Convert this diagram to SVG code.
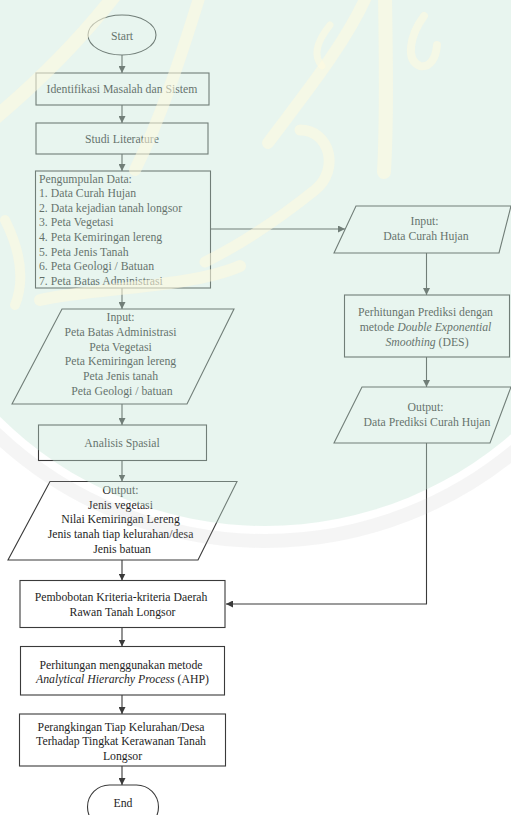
<svg xmlns="http://www.w3.org/2000/svg" width="511" height="815" viewBox="0 0 511 815">
  <style>
    .shape { fill: none; stroke: #3a3a3a; stroke-width: 1.1; }
    .link { fill: none; stroke: #3a3a3a; stroke-width: 1.1; marker-end: url(#arrow); }
    text { font-family: "Liberation Serif", "Times New Roman", serif; font-size: 13.5px; fill: #1e1e1e; }
    .c { text-anchor: middle; }
    .it { font-style: italic; }
  </style>
  <defs>
    <marker id="arrow" markerUnits="userSpaceOnUse" markerWidth="8" markerHeight="7" refX="7" refY="3.5" orient="auto">
      <path d="M0,0 L7,3.5 L0,7 z" fill="#3a3a3a"/>
    </marker>
  </defs>

  <rect width="511" height="815" fill="#ffffff"/>

  <!-- connectors -->
  <g id="connectors">
    <line class="link" x1="122" y1="55" x2="122" y2="73"/>
    <line class="link" x1="122" y1="105" x2="122" y2="123"/>
    <line class="link" x1="122" y1="154" x2="122" y2="171"/>
    <line class="link" x1="210.5" y1="229" x2="345" y2="229"/>
    <line class="link" x1="426.5" y1="253" x2="426.5" y2="295"/>
    <line class="link" x1="426.5" y1="357" x2="426.5" y2="387"/>
    <polyline class="link" points="426.5,443 426.5,604 226,604"/>
    <line class="link" x1="122" y1="288" x2="122" y2="309"/>
    <line class="link" x1="122" y1="404" x2="122" y2="425"/>
    <line class="link" x1="122" y1="460.5" x2="122" y2="481.5"/>
    <line class="link" x1="122" y1="560" x2="122" y2="580.5"/>
    <line class="link" x1="122" y1="627.5" x2="122" y2="646.5"/>
    <line class="link" x1="122" y1="695" x2="122" y2="714"/>
    <line class="link" x1="122" y1="766" x2="122" y2="785"/>
  </g>

  <!-- nodes -->
  <g id="start">
    <ellipse class="shape" cx="122" cy="35" rx="34" ry="20"/>
    <text class="c" transform="translate(122,39.5) scale(0.87,1)">Start</text>
  </g>

  <g id="identifikasi">
    <rect class="shape" x="36" y="73" width="173" height="32"/>
    <text class="c" transform="translate(122,93) scale(0.87,1)">Identifikasi Masalah dan Sistem</text>
  </g>

  <g id="studi">
    <rect class="shape" x="36" y="123" width="172" height="31"/>
    <text class="c" transform="translate(122,142.5) scale(0.87,1)">Studi Literature</text>
  </g>

  <g id="pengumpulan">
    <rect class="shape" x="35.5" y="171" width="175" height="117"/>
    <text transform="translate(39,182.5) scale(0.87,1)">
      <tspan x="0" y="0">Pengumpulan Data:</tspan>
      <tspan x="0" y="14.63">1. Data Curah Hujan</tspan>
      <tspan x="0" y="29.26">2. Data kejadian tanah longsor</tspan>
      <tspan x="0" y="43.89">3. Peta Vegetasi</tspan>
      <tspan x="0" y="58.52">4. Peta Kemiringan lereng</tspan>
      <tspan x="0" y="73.15">5. Peta Jenis Tanah</tspan>
      <tspan x="0" y="87.78">6. Peta Geologi / Batuan</tspan>
      <tspan x="0" y="102.41">7. Peta Batas Administrasi</tspan>
    </text>
  </g>

  <g id="input-hujan">
    <polygon class="shape" points="356,206 511,206 499,253 334,253"/>
    <text class="c" transform="translate(426,224.5) scale(0.87,1)">
      <tspan x="0" y="0">Input:</tspan>
      <tspan x="0" y="15.5">Data Curah Hujan</tspan>
    </text>
  </g>

  <g id="des">
    <rect class="shape" x="344.5" y="295" width="165" height="62"/>
    <text class="c" transform="translate(427,316) scale(0.87,1)">
      <tspan x="0" y="0">Perhitungan Prediksi dengan</tspan>
      <tspan x="0" y="14.8">metode <tspan class="it">Double Exponential</tspan></tspan>
      <tspan x="0" y="29.6"><tspan class="it">Smoothing</tspan> (DES)</tspan>
    </text>
  </g>

  <g id="output-hujan">
    <polygon class="shape" points="362,387 511,387 490,443 334,443"/>
    <text class="c" transform="translate(427,411) scale(0.87,1)">
      <tspan x="0" y="0">Output:</tspan>
      <tspan x="0" y="15">Data Prediksi Curah Hujan</tspan>
    </text>
  </g>

  <g id="input-peta">
    <polygon class="shape" points="62,309 234,309 187,404 12,404"/>
    <text class="c" transform="translate(122,321) scale(0.87,1)">
      <tspan x="0" y="0">Input:</tspan>
      <tspan x="0" y="14.8">Peta Batas Administrasi</tspan>
      <tspan x="0" y="29.6">Peta Vegetasi</tspan>
      <tspan x="0" y="44.4">Peta Kemiringan lereng</tspan>
      <tspan x="0" y="59.2">Peta Jenis tanah</tspan>
      <tspan x="0" y="74">Peta Geologi / batuan</tspan>
    </text>
  </g>

  <g id="analisis">
    <rect class="shape" x="38.5" y="425" width="168" height="35.5"/>
    <text class="c" transform="translate(122,447) scale(0.87,1)">Analisis Spasial</text>
  </g>

  <g id="output-peta">
    <polygon class="shape" points="50,481.5 237,481.5 198,560 8,560"/>
    <text class="c" transform="translate(122,494) scale(0.87,1)">
      <tspan x="0" y="0">Output:</tspan>
      <tspan x="0" y="14.75">Jenis vegetasi</tspan>
      <tspan x="0" y="29.5">Nilai Kemiringan Lereng</tspan>
      <tspan x="0" y="44.25">Jenis tanah tiap kelurahan/desa</tspan>
      <tspan x="0" y="59">Jenis batuan</tspan>
    </text>
  </g>

  <g id="pembobotan">
    <rect class="shape" x="20" y="580.5" width="205" height="47"/>
    <text class="c" transform="translate(122.5,601) scale(0.87,1)">
      <tspan x="0" y="0">Pembobotan Kriteria-kriteria Daerah</tspan>
      <tspan x="0" y="15">Rawan Tanah Longsor</tspan>
    </text>
  </g>

  <g id="ahp">
    <rect class="shape" x="20.5" y="646.5" width="204" height="48.5"/>
    <text class="c" transform="translate(122.5,668.5) scale(0.87,1)">
      <tspan x="0" y="0">Perhitungan menggunakan metode</tspan>
      <tspan x="0" y="15"><tspan class="it">Analytical Hierarchy Process</tspan> (AHP)</tspan>
    </text>
  </g>

  <g id="perangkingan">
    <rect class="shape" x="19.5" y="714" width="206" height="52"/>
    <text class="c" transform="translate(122.5,731) scale(0.87,1)">
      <tspan x="0" y="0">Perangkingan Tiap Kelurahan/Desa</tspan>
      <tspan x="0" y="14.5">Terhadap Tingkat Kerawanan Tanah</tspan>
      <tspan x="0" y="29">Longsor</tspan>
    </text>
  </g>

  <g id="end">
    <rect class="shape" x="87.5" y="785" width="71" height="44" rx="22"/>
    <text class="c" transform="translate(123,807) scale(0.87,1)">End</text>
  </g>

  <!-- pale emblem laid over the upper half of the page -->
  <g id="emblem" pointer-events="none">
    <circle cx="265" cy="150" r="376" fill="rgb(198,230,215)" fill-opacity="0.4"/>
    <circle cx="265" cy="150" r="391" fill="none" stroke="rgb(190,190,190)" stroke-opacity="0.15" stroke-width="14"/>
    <g fill="none" stroke="rgb(255,250,222)" stroke-opacity="0.55" stroke-linecap="round">
      <path d="M385,-5 C386,60 387,120 384,172" stroke-width="14"/>
      <path d="M424,16 C410,35 405,60 420,66 C430,68 436,58 437,45" stroke-width="8"/>
      <path d="M367,-5 C345,45 300,100 268,143" stroke-width="12"/>
      <path d="M330,25 C318,40 312,55 322,66" stroke-width="7"/>
      <path d="M300,130 C330,130 340,170 315,190 C290,210 250,240 205,262" stroke-width="11"/>
      <path d="M115,-5 C80,40 40,80 -5,118" stroke-width="14"/>
      <path d="M200,-5 C180,60 160,120 135,170" stroke-width="12"/>
      <path d="M40,300 C90,288 190,288 240,266" stroke-width="12"/>
      <path d="M5,220 C20,250 25,280 15,305" stroke-width="10"/>
    </g>
  </g>
</svg>
